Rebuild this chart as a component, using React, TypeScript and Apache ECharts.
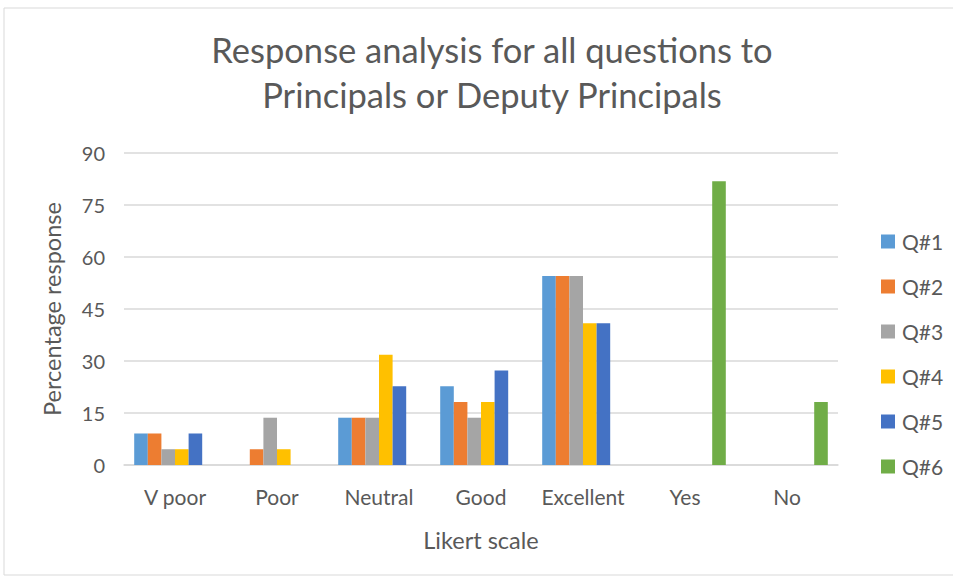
import React, { useEffect, useRef } from "react";
import * as echarts from "echarts";

const categories = ["V poor", "Poor", "Neutral", "Good", "Excellent", "Yes", "No"];
const seriesNames = ["Q#1", "Q#2", "Q#3", "Q#4", "Q#5", "Q#6"];
const q1 = [9.09, 0, 13.64, 22.73, 54.55, 0, 0];
const q2 = [9.09, 4.55, 13.64, 18.18, 54.55, 0, 0];
const q3 = [4.55, 13.64, 13.64, 13.64, 54.55, 0, 0];
const q4 = [4.55, 4.55, 31.82, 18.18, 40.91, 0, 0];
const q5 = [9.09, 0, 22.73, 27.27, 40.91, 0, 0];
const q6 = [0, 0, 0, 0, 0, 81.82, 18.18];
const seriesValues = [q1, q2, q3, q4, q5, q6];
const colors = ["#5B9BD5", "#ED7D31", "#A5A5A5", "#FFC000", "#4472C4", "#70AD47"];
const yTicks = [0, 15, 30, 45, 60, 75, 90];

const FONT = "Lato, 'Open Sans', sans-serif";
const TXT = "#595959";

export default function App() {
  const ref = useRef<HTMLDivElement>(null);
  useEffect(() => {
    if (!ref.current) return;
    const chart = echarts.init(ref.current, undefined, { renderer: "svg" });
    chart.setOption({
      animation: false,
      backgroundColor: "#ffffff",
      textStyle: { fontFamily: FONT },
      graphic: [
        {
          type: "rect",
          shape: { x: 4, y: 8, width: 960, height: 567 },
          style: { fill: "none", stroke: "#d9d9d9", lineWidth: 1 },
          silent: true,
        },
      ],
      title: {
        text: "Response analysis for all questions to\nPrincipals or Deputy Principals",
        left: 487,
        textAlign: "center",
        top: 22,
        textStyle: {
          fontFamily: FONT,
          fontSize: 34.5,
          fontWeight: "normal",
          color: TXT,
          lineHeight: 45,
        },
      },
      legend: {
        orient: "vertical",
        left: 876,
        top: 226,
        itemGap: 24,
        itemWidth: 14,
        itemHeight: 14,
        itemStyle: { borderWidth: 0 },
        icon: "rect",
        data: seriesNames,
        textStyle: { fontFamily: FONT, fontSize: 21, color: TXT, padding: [0, 0, 0, 2], height: 21 },
      },
      grid: { left: 124, right: 953 - 838, top: 153, bottom: 579 - 465, containLabel: false },
      xAxis: {
        type: "category",
        data: categories,
        name: "Likert scale",
        nameLocation: "middle",
        nameGap: 63,
        nameTextStyle: { fontFamily: FONT, fontSize: 23.5, color: TXT },
        axisLine: { lineStyle: { color: "#d9d9d9", width: 1.5 } },
        axisTick: { show: false },
        axisLabel: { fontFamily: FONT, fontSize: 21, color: TXT, margin: 21, interval: 0, hideOverlap: false },
      },
      yAxis: {
        type: "value",
        min: 0,
        max: 90,
        interval: 15,
        name: "Percentage response",
        nameLocation: "middle",
        nameGap: 60,
        nameTextStyle: { fontFamily: FONT, fontSize: 23.5, color: TXT },
        axisLine: { show: false },
        axisTick: { show: false },
        axisLabel: {
          fontFamily: FONT,
          fontSize: 20,
          color: TXT,
          margin: 19,
          formatter: (v: number) => (yTicks.includes(v) ? String(v) : ""),
        },
        splitLine: { lineStyle: { color: "#d9d9d9", width: 1.5 } },
      },
      series: seriesNames.map((name, i) => ({
        name,
        type: "bar",
        data: seriesValues[i],
        itemStyle: { color: colors[i] },
        barGap: "0%",
        barCategoryGap: "20%",
      })),
    });
    return () => chart.dispose();
  }, []);
  return <div ref={ref} style={{ width: 953, height: 579, position: "absolute", left: 0, top: 0 }} />;
}
